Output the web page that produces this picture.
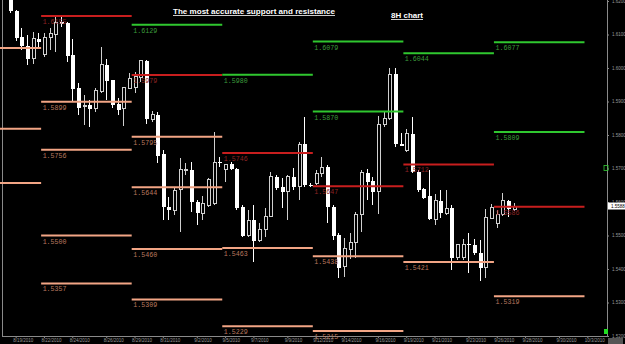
<!DOCTYPE html>
<html>
<head>
<meta charset="utf-8">
<script src="https://cdn.jsdelivr.net/npm/d3@7"></script>
<style>
body { margin: 0; background: #000; }
svg { display: block; background: #000; }
.title { font-family: Arial, "Liberation Sans", sans-serif; font-weight: bold; fill: #fff; text-decoration: underline; }
.lvl { font-family: "Liberation Mono", monospace; font-size: 8px; }
.axis text { font-family: "Liberation Sans", Arial, sans-serif; font-size: 4.5px; fill: #9a9a9a; }
.axis line { stroke: #888; }
</style>
</head>
<body>
<svg width="625" height="344"></svg>
<script>
// 8H bars
const barOpen  = [1.6203,1.6170,1.6093,1.6066,1.6027,1.6087,1.6039,1.6090,1.6099,1.6137,
                  1.6134,1.6039,1.5940,1.5884,1.5890,1.5878,1.5931,1.6009,1.5964,1.5893,
                  1.5878,1.5940,1.5943,1.5973,1.6021,1.5845,1.5860,1.5743,1.5585,1.5576,
                  1.5636,1.5696,1.5696,1.5600,1.5567,1.5591,1.5597,1.5719,1.5696,1.5713,
                  1.5698,1.5585,1.5499,1.5546,1.5484,1.5519,1.5558,1.5675,1.5645,1.5630,
                  1.5675,1.5645,1.5773,1.5651,1.5654,1.5684,1.5704,1.5585,1.5502,1.5406,
                  1.5457,1.5478,1.5564,1.5687,1.5663,1.5630,1.5830,1.5848,1.5982,1.5773,
                  1.5755,1.5803,1.5690,1.5639,1.5618,1.5549,1.5603,1.5567,1.5582,1.5433,
                  1.5433,1.5475,1.5472,1.5448,1.5403,1.5552,1.5537,1.5564,1.5603,1.5579];
const barHigh  = [1.6210,1.6173,1.6119,1.6099,1.6107,1.6104,1.6104,1.6119,1.6158,1.6152,
                  1.6137,1.6087,1.5955,1.5919,1.5904,1.5940,1.6063,1.6027,1.5964,1.5910,
                  1.5943,1.5985,1.5988,1.6024,1.6024,1.5872,1.5869,1.5755,1.5615,1.5642,
                  1.5731,1.5716,1.5719,1.5606,1.5618,1.5672,1.5809,1.5734,1.5713,1.5719,
                  1.5701,1.5591,1.5576,1.5591,1.5537,1.5582,1.5690,1.5681,1.5672,1.5681,
                  1.5701,1.5779,1.5854,1.5657,1.5696,1.5734,1.5710,1.5591,1.5508,1.5493,
                  1.5508,1.5570,1.5696,1.5698,1.5675,1.5857,1.5869,1.6000,1.6000,1.5806,
                  1.5818,1.5854,1.5696,1.5642,1.5696,1.5624,1.5636,1.5636,1.5591,1.5472,
                  1.5490,1.5508,1.5490,1.5487,1.5579,1.5594,1.5576,1.5627,1.5606,1.5597];
const barLow   = [1.6164,1.6081,1.6054,1.6009,1.6012,1.6063,1.6033,1.6054,1.6048,1.6122,
                  1.6018,1.5899,1.5860,1.5830,1.5824,1.5869,1.5925,1.5904,1.5881,1.5860,
                  1.5827,1.5937,1.5925,1.5958,1.5833,1.5839,1.5716,1.5546,1.5546,1.5561,
                  1.5511,1.5681,1.5570,1.5531,1.5546,1.5585,1.5591,1.5704,1.5660,1.5696,
                  1.5576,1.5496,1.5496,1.5421,1.5481,1.5496,1.5555,1.5636,1.5582,1.5546,
                  1.5636,1.5606,1.5645,1.5645,1.5651,1.5675,1.5537,1.5487,1.5373,1.5376,
                  1.5430,1.5433,1.5511,1.5606,1.5591,1.5564,1.5824,1.5845,1.5764,1.5767,
                  1.5749,1.5687,1.5630,1.5609,1.5546,1.5531,1.5552,1.5561,1.5397,1.5427,
                  1.5427,1.5388,1.5442,1.5364,1.5373,1.5552,1.5522,1.5558,1.5555,1.5573];
const barClose = [1.6170,1.6090,1.6066,1.6027,1.6087,1.6078,1.6090,1.6104,1.6137,1.6131,
                  1.6036,1.5937,1.5881,1.5887,1.5878,1.5934,1.6009,1.5961,1.5890,1.5875,
                  1.5943,1.5970,1.5976,1.6021,1.5848,1.5860,1.5737,1.5585,1.5576,1.5633,
                  1.5698,1.5698,1.5600,1.5567,1.5597,1.5666,1.5719,1.5716,1.5713,1.5698,
                  1.5582,1.5499,1.5546,1.5484,1.5519,1.5558,1.5675,1.5642,1.5630,1.5675,
                  1.5645,1.5773,1.5651,1.5648,1.5684,1.5704,1.5585,1.5499,1.5403,1.5460,
                  1.5478,1.5564,1.5687,1.5660,1.5630,1.5830,1.5848,1.5982,1.5773,1.5767,
                  1.5803,1.5690,1.5636,1.5612,1.5549,1.5603,1.5567,1.5582,1.5433,1.5472,
                  1.5472,1.5472,1.5448,1.5403,1.5555,1.5585,1.5564,1.5603,1.5579,1.5588];

// weekly levels: [week, price]  (week 0 starts off the left edge)
const greenLevels  = [[2,1.6129],[3,1.5980],[4,1.6079],[4,1.5870],[5,1.6044],[6,1.6077],[6,1.5809]];
const redLevels    = [[1,1.6155],[2,1.5979],[3,1.5746],[4,1.5647],[5,1.5712],[6,1.5586]];
const orangeLevels = [[0,1.6060],[0,1.5819],[0,1.5657],
                      [1,1.5899],[1,1.5756],[1,1.5500],[1,1.5357],
                      [2,1.5795],[2,1.5644],[2,1.5460],[2,1.5309],
                      [3,1.5463],[3,1.5229],
                      [4,1.5438],[4,1.5215],
                      [5,1.5421],
                      [6,1.5319]];

const priceTicks = [1.62,1.61,1.60,1.59,1.58,1.57,1.56,1.55,1.54,1.53,1.52];
const dateTickBars = [1,6,11,17,22,27,33,38,43,49,54,59,65,70,75,81,86,91,97,102];
const dateTickLabels = ["8/19/2010","8/22/2010","8/24/2010","8/26/2010","8/29/2010","8/31/2010",
                        "9/2/2010","9/5/2010","9/7/2010","9/9/2010","9/12/2010","9/14/2010",
                        "9/16/2010","9/19/2010","9/21/2010","9/23/2010","9/26/2010","9/28/2010",
                        "9/30/2010","10/3/2010"];

const { select, scaleLinear, axisRight, axisBottom, format } = d3;

const svg = select('svg');
const width = +svg.attr('width');
const height = +svg.attr('height');

const plotRight = 607;
const plotBottom = 336;

const x = scaleLinear().domain([0, 100]).range([10, 576]);
const y = scaleLinear().domain([1.52, 1.62]).range([plotBottom, 1]);
const fmt = format('.4f');

const weekStart = w => 5.5 + 16 * (w - 1);

const bars = barOpen.map((o, i) => ({ i, o, h: barHigh[i], l: barLow[i], c: barClose[i] }));

// frame lines
svg.append('line')
  .attr('x1', 2.5).attr('x2', 2.5).attr('y1', 0).attr('y2', plotBottom)
  .attr('stroke', '#8a8a8a');
svg.append('line')
  .attr('x1', plotRight + 0.5).attr('x2', plotRight + 0.5).attr('y1', 0).attr('y2', plotBottom)
  .attr('stroke', '#8a8a8a');
svg.append('line')
  .attr('x1', 2).attr('x2', plotRight).attr('y1', plotBottom + 0.5).attr('y2', plotBottom + 0.5)
  .attr('stroke', '#8a8a8a');

const plot = svg.append('g').attr('shape-rendering', 'crispEdges');

// wicks
plot.selectAll('line.wick').data(bars)
  .enter().append('line')
  .attr('class', 'wick')
  .attr('x1', d => Math.round(x(d.i)) + 0.5)
  .attr('x2', d => Math.round(x(d.i)) + 0.5)
  .attr('y1', d => y(d.h))
  .attr('y2', d => y(d.l))
  .attr('stroke', d => d.c < d.o ? '#fff' : '#cfcfcf');

// bodies: white = down bar, hollow = up bar
plot.selectAll('rect.body').data(bars)
  .enter().append('rect')
  .attr('class', 'body')
  .attr('x', d => d.c < d.o ? Math.round(x(d.i)) - 1.5 : Math.round(x(d.i)) - 1)
  .attr('width', d => d.c < d.o ? 4 : 3)
  .attr('y', d => y(Math.max(d.o, d.c)))
  .attr('height', d => Math.max(1, Math.abs(y(d.o) - y(d.c))))
  .attr('fill', d => d.c < d.o ? '#fff' : '#000')
  .attr('stroke', d => d.c < d.o ? 'none' : '#d0d0d0');

// support / resistance segments
const levelSets = [
  { data: orangeLevels, line: '#f2a585', label: '#b9785f' },
  { data: redLevels, line: '#c81e1e', label: '#8e2424' },
  { data: greenLevels, line: '#2fc72f', label: '#3c9c3c' }
];

levelSets.forEach(set => {
  const g = svg.append('g');
  g.selectAll('line').data(set.data)
    .enter().append('line')
    .attr('x1', d => x(weekStart(d[0])))
    .attr('x2', d => x(weekStart(d[0] + 1)))
    .attr('y1', d => y(d[1]))
    .attr('y2', d => y(d[1]))
    .attr('stroke', set.line)
    .attr('stroke-width', 2);
  g.selectAll('text').data(set.data.filter(d => x(weekStart(d[0])) > 0))
    .enter().append('text')
    .attr('class', 'lvl')
    .attr('x', d => x(weekStart(d[0])) + 1.5)
    .attr('y', d => y(d[1]) + 8)
    .attr('fill', set.label)
    .attr('textLength', 24)
    .attr('lengthAdjust', 'spacingAndGlyphs')
    .text(d => fmt(d[1]));
});

// price axis
const yAxisG = svg.append('g')
  .attr('class', 'axis')
  .attr('transform', `translate(${plotRight},0)`)
  .call(axisRight(y).tickValues(priceTicks).tickFormat(fmt).tickSize(2).tickPadding(3));
yAxisG.select('.domain').remove();

// date axis
const xAxisG = svg.append('g')
  .attr('class', 'axis')
  .attr('transform', `translate(0,${plotBottom})`)
  .call(axisBottom(x).tickValues(dateTickBars).tickFormat((d, i) => dateTickLabels[i]).tickSize(2));
xAxisG.select('.domain').remove();
xAxisG.selectAll('text')
  .attr('text-anchor', 'start')
  .attr('dx', -3)
  .attr('y', 3);

// last price marker
const lastClose = barClose[barClose.length - 1];
svg.append('rect')
  .attr('x', plotRight + 1).attr('y', y(lastClose) - 3.5)
  .attr('width', 17).attr('height', 7)
  .attr('fill', '#fff');
svg.append('text')
  .attr('x', plotRight + 4).attr('y', y(lastClose) + 1.6)
  .attr('font-family', 'Liberation Sans, Arial, sans-serif')
  .attr('font-size', 4.5)
  .attr('fill', '#000')
  .text(fmt(lastClose));

// small terminal markers
svg.append('rect')
  .attr('x', plotRight - 3).attr('y', y(1.5700) - 3)
  .attr('width', 4).attr('height', 5)
  .attr('fill', 'none').attr('stroke', '#3c3').attr('stroke-width', 0.8);
svg.append('rect')
  .attr('x', plotRight - 3).attr('y', plotBottom - 7)
  .attr('width', 4).attr('height', 5)
  .attr('fill', '#2d2');
svg.append('rect')
  .attr('x', plotRight + 1).attr('y', plotBottom + 2)
  .attr('width', 15).attr('height', 7)
  .attr('fill', '#555');

// titles
svg.append('text')
  .attr('class', 'title')
  .attr('x', 173).attr('y', 14)
  .attr('font-size', 8)
  .attr('textLength', 162)
  .attr('lengthAdjust', 'spacingAndGlyphs')
  .text('The most accurate support and resistance');
svg.append('text')
  .attr('class', 'title')
  .attr('x', 391).attr('y', 18)
  .attr('font-size', 8)
  .attr('textLength', 32)
  .attr('lengthAdjust', 'spacingAndGlyphs')
  .text('8H chart');
</script>
</body>
</html>
